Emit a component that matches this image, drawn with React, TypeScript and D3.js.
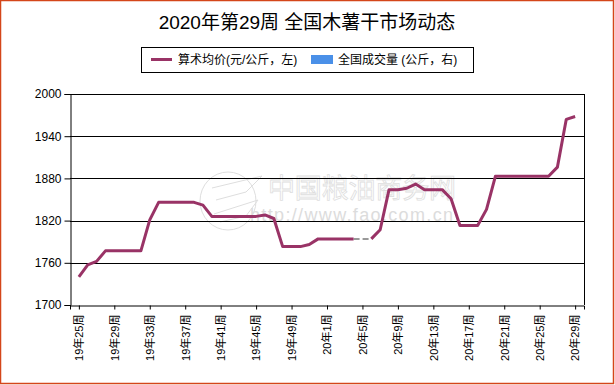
import React, { useEffect, useRef } from 'react';
import * as d3 from 'd3';

// week categories (x axis)
const weeks = [
  '19年25周', '19年26周', '19年27周', '19年28周', '19年29周', '19年30周', '19年31周', '19年32周',
  '19年33周', '19年34周', '19年35周', '19年36周', '19年37周', '19年38周', '19年39周', '19年40周',
  '19年41周', '19年42周', '19年43周', '19年44周', '19年45周', '19年46周', '19年47周', '19年48周',
  '19年49周', '19年50周', '19年51周', '19年52周',
  '20年1周', '20年2周', '20年3周', '20年4周', '20年5周', '20年6周', '20年7周', '20年8周',
  '20年9周', '20年10周', '20年11周', '20年12周', '20年13周', '20年14周', '20年15周', '20年16周',
  '20年17周', '20年18周', '20年19周', '20年20周', '20年21周', '20年22周', '20年23周', '20年24周',
  '20年25周', '20年26周', '20年27周', '20年28周', '20年29周',
];

// 算术均价 (元/公斤), null = no quote that week
const prices: (number | null)[] = [
  1740, 1757, 1762, 1777, 1777, 1777, 1777, 1777,
  1821, 1846, 1846, 1846, 1846, 1846, 1842, 1826,
  1826, 1826, 1826, 1826, 1826, 1828, 1823, 1783,
  1783, 1783, 1786, 1794,
  1794, 1794, 1794, 1794, null, 1794, 1807, 1864,
  1864, 1866, 1872, 1864, 1864, 1864, 1851, 1813,
  1813, 1813, 1836, 1883, 1883, 1883, 1883, 1883,
  1883, 1883, 1896, 1964, 1968,
];

const yTicks = [1700, 1760, 1820, 1880, 1940, 2000];

const W = 615;
const H = 385;
const FONT = "Arial, 'Liberation Sans', 'Noto Sans CJK SC', sans-serif";

const App = () => {
  const svgRef = useRef<SVGSVGElement>(null);

  useEffect(() => {
    const svg = d3.select(svgRef.current);
    svg.selectAll('*').remove();

    const margin = { top: 94, right: 31, bottom: 80, left: 70 };

    const x = d3.scalePoint<string>()
      .domain(weeks)
      .range([margin.left, W - margin.right])
      .padding(1);

    const y = d3.scaleLinear()
      .domain([1700, 2000])
      .range([H - margin.bottom, margin.top]);

    // outer frame
    svg.append('rect')
      .attr('x', 0.5).attr('y', 0.5)
      .attr('width', 613).attr('height', 383)
      .attr('fill', '#fff')
      .attr('stroke', '#d4461a')
      .attr('stroke-width', 1.5);

    // title
    svg.append('text')
      .attr('x', 307).attr('y', 29)
      .attr('text-anchor', 'middle')
      .attr('font-family', FONT)
      .attr('font-size', 19)
      .text('2020年第29周 全国木薯干市场动态');

    // legend
    const lg = svg.append('g');
    lg.append('rect')
      .attr('x', 141.5).attr('y', 47.5)
      .attr('width', 332).attr('height', 25)
      .attr('fill', '#fff').attr('stroke', '#000');
    lg.append('line')
      .attr('x1', 151).attr('x2', 172).attr('y1', 59.5).attr('y2', 59.5)
      .attr('stroke', '#993366').attr('stroke-width', 3);
    lg.append('text')
      .attr('x', 178).attr('y', 64)
      .attr('font-family', FONT).attr('font-size', 12)
      .text('算术均价(元/公斤，左)');
    lg.append('rect')
      .attr('x', 311).attr('y', 55).attr('width', 22).attr('height', 9)
      .attr('fill', '#4a90e8');
    lg.append('text')
      .attr('x', 338).attr('y', 64)
      .attr('font-family', FONT).attr('font-size', 12)
      .text('全国成交量 (公斤，右)');

    // watermark
    const wm = svg.append('g').attr('fill', 'none').attr('stroke', '#dedede');
    wm.append('ellipse')
      .attr('cx', 228).attr('cy', 201).attr('rx', 28).attr('ry', 29);
    wm.append('path')
      .attr('d', 'M212,188 L262,176 L246,192 L216,200 M214,214 L258,200 L246,216 L220,222');
    wm.append('text')
      .attr('x', 268).attr('y', 198)
      .attr('font-family', FONT).attr('font-size', 27)
      .attr('stroke-width', 0.8)
      .attr('textLength', 188)
      .text('中国粮油商务网');
    svg.append('text')
      .attr('x', 250).attr('y', 221)
      .attr('font-family', FONT).attr('font-size', 18)
      .attr('fill', '#dcdcdc')
      .attr('textLength', 203)
      .text('http://www.fao.com.cn');

    // grid
    svg.append('g')
      .selectAll('line')
      .data(yTicks.slice(1))
      .enter()
      .append('line')
      .attr('x1', margin.left).attr('x2', W - margin.right)
      .attr('y1', d => Math.round(y(d)) + 0.5)
      .attr('y2', d => Math.round(y(d)) + 0.5)
      .attr('stroke', '#000');

    // right border of plot
    svg.append('line')
      .attr('x1', W - margin.right + 0.5).attr('x2', W - margin.right + 0.5)
      .attr('y1', y(2000)).attr('y2', y(1700))
      .attr('stroke', '#000');

    // y axis
    const yAxis = d3.axisLeft(y)
      .tickValues(yTicks)
      .tickFormat(d3.format('d'))
      .tickSize(6)
      .tickPadding(3);
    const gy = svg.append('g')
      .attr('transform', `translate(${margin.left + 0.5},0)`)
      .call(yAxis);
    gy.select('.domain').attr('stroke', '#000');
    gy.selectAll('text').attr('font-family', FONT).attr('font-size', 12).attr('fill', '#000');

    // x axis
    const xAxis = d3.axisBottom(x)
      .tickValues(weeks.filter((d, i) => i % 4 === 0))
      .tickSizeOuter(0)
      .tickSize(4);
    const gx = svg.append('g')
      .attr('transform', `translate(0,${Math.round(y(1700)) + 0.5})`)
      .call(xAxis);
    gx.select('.domain').attr('stroke', '#000');
    gx.selectAll('text')
      .attr('font-family', FONT)
      .attr('font-size', 11)
      .attr('fill', '#000')
      .attr('text-anchor', 'end')
      .attr('transform', 'rotate(-90)')
      .attr('x', -9)
      .attr('y', 0)
      .attr('dy', '0.35em');

    // dashed connectors over missing weeks
    const pts = prices.map((v, i) => ({ k: weeks[i], v }));
    pts.forEach((p, i) => {
      if (p.v !== null) return;
      let a = i - 1;
      let b = i + 1;
      while (a >= 0 && pts[a].v === null) a--;
      while (b < pts.length && pts[b].v === null) b++;
      if (a < 0 || b >= pts.length || pts[i - 1].v === null) return;
      svg.append('line')
        .attr('x1', x(pts[a].k)!).attr('y1', y(pts[a].v as number))
        .attr('x2', x(pts[b].k)!).attr('y2', y(pts[b].v as number))
        .attr('stroke', '#999')
        .attr('stroke-width', 2)
        .attr('stroke-dasharray', '6,3');
    });

    // price line
    const line = d3.line<{ k: string; v: number | null }>()
      .defined(d => d.v !== null)
      .x(d => x(d.k)!)
      .y(d => y(d.v as number));

    svg.append('path')
      .datum(pts)
      .attr('d', line)
      .attr('fill', 'none')
      .attr('stroke', '#993366')
      .attr('stroke-width', 3)
      .attr('stroke-linejoin', 'round');
  }, []);

  return (
    <svg
      ref={svgRef}
      width={W}
      height={H}
      style={{ position: 'absolute', left: 0, top: 0, display: 'block' }}
    />
  );
};

export default App;
